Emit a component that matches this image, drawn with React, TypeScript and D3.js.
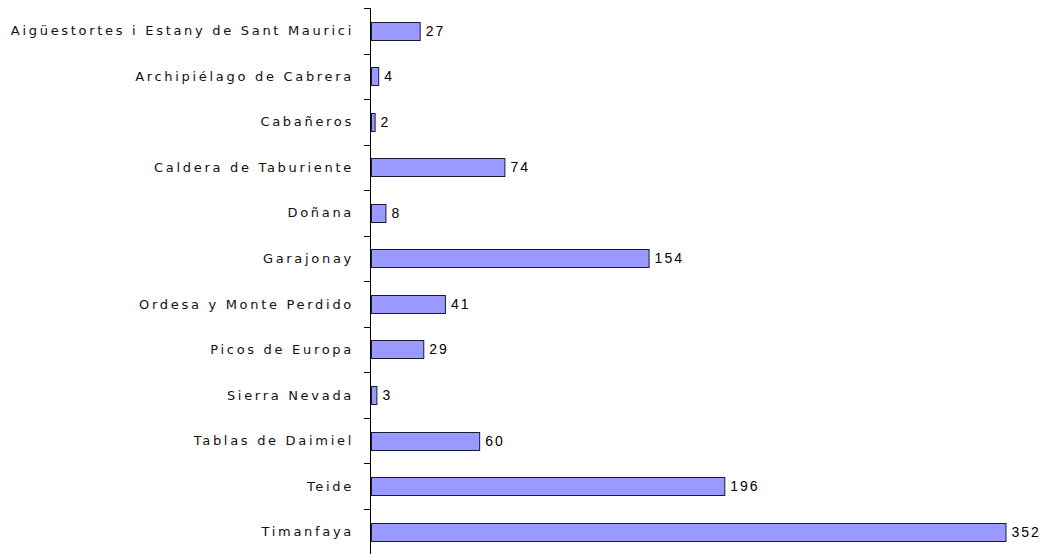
import React from "react";
import * as d3 from "d3";

const categories = [
  "Aigüestortes i Estany de Sant Maurici",
  "Archipiélago de Cabrera",
  "Cabañeros",
  "Caldera de Taburiente",
  "Doñana",
  "Garajonay",
  "Ordesa y Monte Perdido",
  "Picos de Europa",
  "Sierra Nevada",
  "Tablas de Daimiel",
  "Teide",
  "Timanfaya",
];
const values = [27, 4, 2, 74, 8, 154, 41, 29, 3, 60, 196, 352];

const W = 1048;
const H = 554;
const x0 = 371;

export default function App() {
  const y = d3.scaleBand<string>().domain(categories).range([8, 554.5]).paddingInner(0.6).paddingOuter(0.3);
  const yb = d3.scaleBand<string>().domain(categories).range([8, 554.5]);
  const x = d3.scaleLinear().domain([0, 352]).range([x0, 1005.5]);
  const ticks = categories.map((c) => yb(c)!);
  return (
    <svg width={W} height={H} style={{ position: "absolute", left: 0, top: 0, background: "#fff" }}>
      <line x1={x0 - 0.5} x2={x0 - 0.5} y1={8} y2={H} stroke="#000" strokeWidth={1} />
      {ticks.map((t, i) => (
        <line key={i} x1={x0 - 7} x2={x0} y1={Math.round(t) + 0.5} y2={Math.round(t) + 0.5} stroke="#000" />
      ))}
      {categories.map((c, i) => {
        const by = y(c)!;
        const bh = y.bandwidth();
        const cy = yb(c)! + yb.bandwidth() / 2;
        return (
          <g key={c}>
            <rect
              x={x0 + 0.5}
              y={Math.round(by) + 0.5}
              width={x(values[i]) - x0}
              height={Math.round(bh)}
              fill="#9999ff"
              stroke="#1a1a33"
              strokeWidth={1}
            />
            <text
              x={x0 - 17}
              y={cy}
              dy="0.35em"
              textAnchor="end"
              fontFamily="'DejaVu Sans', sans-serif"
              fontSize={13}
              letterSpacing={2.7}
              fill="#111"
            >
              {c}
            </text>
            <text
              x={x(values[i]) + 6}
              y={cy}
              dy="0.35em"
              fontFamily="'Liberation Sans', Arial, sans-serif"
              fontSize={14}
              letterSpacing={2}
              fill="#000"
            >
              {values[i]}
            </text>
          </g>
        );
      })}
    </svg>
  );
}
